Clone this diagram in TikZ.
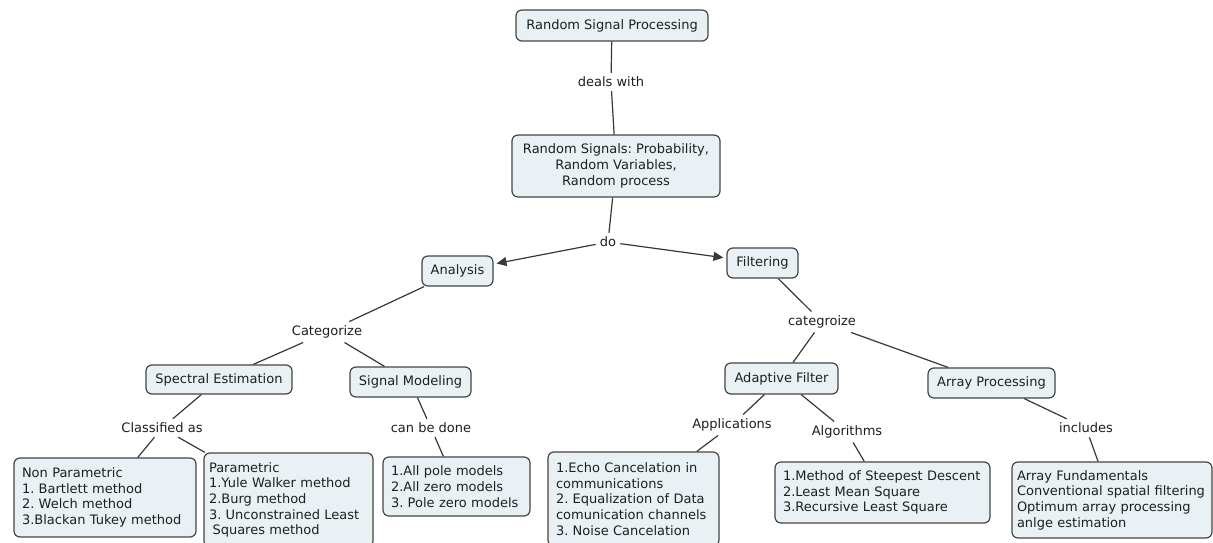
\documentclass[tikz,border=0pt]{standalone}
\usepackage{fontspec}
\setmainfont{DejaVu Sans}
\usetikzlibrary{arrows.meta}
\definecolor{boxfill}{HTML}{E9F1F5}
\definecolor{boxline}{HTML}{454545}
\definecolor{inkline}{HTML}{383838}
\definecolor{inktext}{HTML}{1F1F1F}
\frenchspacing
\begin{document}
\begin{tikzpicture}[x=1pt,y=-1pt,
  every node/.style={font=\fontsize{13}{15.7}\selectfont\frenchspacing, text=inktext},
  concept/.style={draw=boxline, fill=boxfill, rounded corners=6pt, line width=1.2pt,
    inner sep=0pt, minimum height=30pt, align=center},
  listbox/.style={concept, align=left},
  linkword/.style={inner sep=4pt},
  link/.style={draw=inkline, line width=1.2pt},
  arrowlink/.style={link, -{Triangle[length=10pt,width=9pt]}, shorten >=3pt}
]
\useasboundingbox (0,0) rectangle (1213,543);
\fill[white] (0,0) rectangle (1213,543);

% concepts
\node[concept, minimum width=192pt, minimum height=31pt] (rsp) at (612,25.5) {Random Signal Processing};
\node[concept, minimum width=208pt, minimum height=62pt] (rs) at (616,166)
  {Random Signals: Probability,\\Random Variables,\\Random process};
\node[concept, minimum width=71pt] (analysis) at (457.5,271) {Analysis};
\node[concept, minimum width=71pt] (filtering) at (762.5,263) {Filtering};
\node[concept, minimum width=146pt, minimum height=29pt] (spectral) at (219,379.5) {Spectral Estimation};
\node[concept, minimum width=121pt] (sigmod) at (410.5,382) {Signal Modeling};
\node[concept, minimum width=113pt, minimum height=31pt] (adaptive) at (781.5,378.5) {Adaptive Filter};
\node[concept, minimum width=127pt] (arrayproc) at (991.5,383) {Array Processing};

% list boxes
\node[listbox, inner xsep=8pt, text width=166pt, minimum height=79pt] (nonpar) at (105,497.5)
  {Non Parametric\\1. Bartlett method\\2. Welch method\\3.Blackan Tukey method};
\node[listbox, inner xsep=5pt, text width=159pt, minimum height=94pt] (par) at (288.5,500)
  {Parametric\\1.Yule Walker method\\2.Burg method\\3. Unconstrained Least\\\hspace*{3.5pt}Squares method};
\node[listbox, inner xsep=8pt, text width=131pt, minimum height=59pt] (pole) at (456.5,486.5)
  {1.All pole models\\2.All zero models\\3. Pole zero models};
\node[listbox, inner xsep=8pt, text width=155pt, minimum height=94pt] (echo) at (633.5,499)
  {1.Echo Cancelation in\\communications\\2. Equalization of Data\\comunication channels\\3. Noise Cancelation};
\node[listbox, inner xsep=8pt, text width=199pt, minimum height=61pt] (steepest) at (882.5,492.5)
  {1.Method of Steepest Descent\\2.Least Mean Square\\3.Recursive Least Square};
\node[listbox, inner xsep=5pt, text width=190pt, minimum height=76pt] (arrayf) at (1112,500)
  {Array Fundamentals\\Conventional spatial filtering\\Optimum array processing\\anlge estimation};

% linking phrases
\node[linkword] (dealswith) at (611,82) {deals with};
\node[linkword] (do) at (608,242) {do};
\node[linkword] (categorize) at (327,332) {Categorize};
\node[linkword] (categroize) at (822,322) {categroize};
\node[linkword] (classified) at (162,428) {Classified as};
\node[linkword] (canbedone) at (431,428) {can be done};
\node[linkword] (applications) at (732,425) {Applications};
\node[linkword] (algorithms) at (847,432) {Algorithms};
\node[linkword] (includes) at (1086,428) {includes};

% connectors
\draw[link] (rsp) -- (dealswith);
\draw[link] (dealswith) -- (rs);
\draw[link] (rs) -- (do);
\draw[arrowlink] (do) -- (analysis);
\draw[arrowlink] (do) -- (filtering);

\draw[link] (analysis) -- (categorize);
\draw[link] (categorize) -- (spectral);
\draw[link] (categorize) -- (sigmod);
\draw[link] (spectral) -- (classified);
\draw[link] (classified) -- (nonpar);
\draw[link] (classified) -- (par);
\draw[link] (sigmod) -- (canbedone);
\draw[link] (canbedone) -- (pole);

\draw[link] (filtering) -- (categroize);
\draw[link] (categroize) -- (adaptive);
\draw[link] (categroize) -- (arrayproc);
\draw[link] (adaptive) -- (applications);
\draw[link] (adaptive) -- (algorithms);
\draw[link] (applications) -- (echo);
\draw[link] (algorithms) -- (steepest);
\draw[link] (arrayproc) -- (includes);
\draw[link] (includes) -- (arrayf);
\end{tikzpicture}
\end{document}
